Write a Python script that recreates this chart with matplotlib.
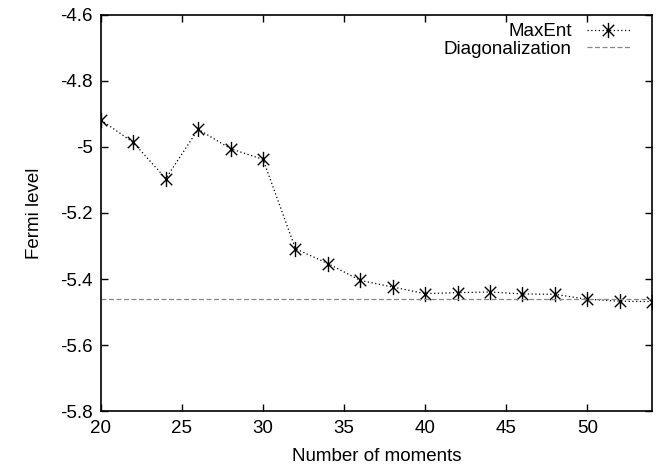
import matplotlib
matplotlib.use("Agg")
import matplotlib.pyplot as plt
from matplotlib.path import Path

moments = [20, 22, 24, 26, 28, 30, 32, 34, 36, 38, 40, 42, 44, 46, 48, 50, 52, 54]
maxent = [-4.919, -4.987, -5.096, -4.947, -5.006, -5.038, -5.308, -5.353, -5.404,
          -5.424, -5.444, -5.441, -5.439, -5.445, -5.446, -5.461, -5.467, -5.468]
diag_level = -5.461
xticks = [20, 25, 30, 35, 40, 45, 50]
yticks = [-5.8, -5.6, -5.4, -5.2, -5.0, -4.8, -4.6]
ytick_labels = ["-5.8", "-5.6", "-5.4", "-5.2", "-5", "-4.8", "-4.6"]

plt.rcParams['font.family'] = ['Liberation Sans', 'DejaVu Sans']

star = Path([(0, -1), (0, 1), (-0.75, -0.75), (0.75, 0.75), (-0.75, 0.75), (0.75, -0.75)],
            [Path.MOVETO, Path.LINETO, Path.MOVETO, Path.LINETO, Path.MOVETO, Path.LINETO])

fig = plt.figure(figsize=(6.64, 4.68), dpi=100)
ax = fig.add_axes([0.152, 0.121, 0.830, 0.848])

ax.plot(moments, maxent, linestyle=(0, (1, 2)), color='black', linewidth=0.9,
        marker=star, markersize=11, markeredgewidth=1.0, markerfacecolor='none',
        markeredgecolor='black', label='MaxEnt')
ax.axhline(diag_level, color='#888888', linestyle=(0, (4, 2)), linewidth=0.9,
           label='Diagonalization')

ax.set_xlim(20, 54)
ax.set_ylim(-5.8, -4.6)
ax.set_xticks(xticks)
ax.set_yticks(yticks)
ax.set_yticklabels(ytick_labels)
ax.tick_params(direction='in', top=True, right=True, length=5, width=1,
               labelsize=13.5, pad=6)
for s in ax.spines.values():
    s.set_linewidth(1.2)

ax.set_xlabel('Number of moments', fontsize=13.5, labelpad=8)
ax.set_ylabel('Fermi level', fontsize=13.5, labelpad=12)

leg = ax.legend(loc='upper right', bbox_to_anchor=(0.975, 1.0), frameon=False,
                markerfirst=False, fontsize=13.5,
                handlelength=2.3, borderaxespad=0.05, labelspacing=0.02,
                handletextpad=0.8)
for t in leg.get_texts():
    t.set_ha('right')

fig.savefig('out.png', dpi=100)
